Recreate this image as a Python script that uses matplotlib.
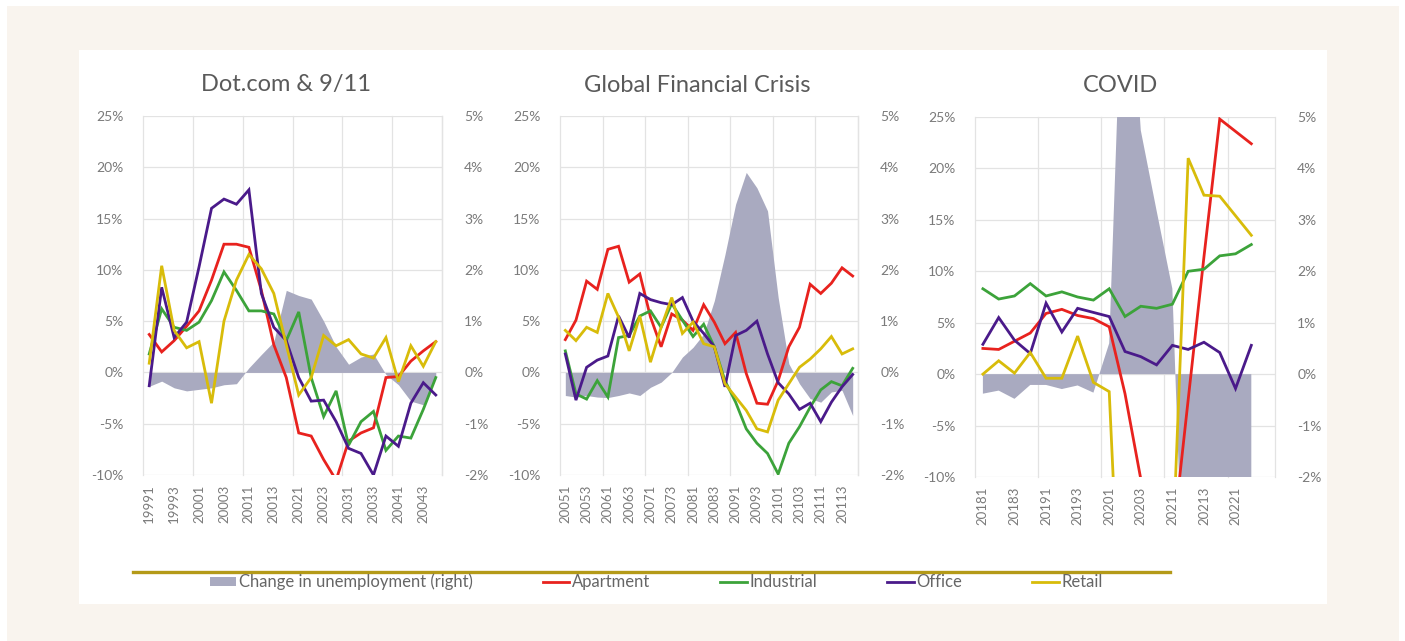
import matplotlib

matplotlib.use("Agg")
import matplotlib.pyplot as plt
import numpy as np
from matplotlib.lines import Line2D
from matplotlib.patches import Patch, Rectangle
from matplotlib.ticker import FuncFormatter

plt.rcParams["font.family"] = ["Lato", "DejaVu Sans"]

# ---- Dot.com & 9/11 (1999Q1 - 2004Q4) ----
dot_quarters = [
    "19991", "19992", "19993", "19994", "20001", "20002", "20003", "20004",
    "20011", "20012", "20013", "20014", "20021", "20022", "20023", "20024",
    "20031", "20032", "20033", "20034", "20041", "20042", "20043", "20044",
]
dot_unemp = [
    -0.27, -0.17, -0.30, -0.36, -0.33, -0.30, -0.24, -0.22,
    0.09, 0.35, 0.60, 1.60, 1.50, 1.43, 1.00, 0.50,
    0.16, 0.30, 0.36, -0.04, -0.24, -0.56, -0.63, -0.10,
]
dot_apartment = [
    3.7, 2.0, 3.1, 4.5, 6.0, 9.0, 12.5, 12.5, 12.2, 8.0, 2.7, -0.5,
    -5.9, -6.2, -8.5, -10.5, -6.7, -5.9, -5.4, -0.5, -0.4, 1.1, 2.1, 3.0,
]
dot_industrial = [
    1.8, 6.2, 4.4, 4.1, 4.9, 7.0, 9.8, 8.0, 6.0, 6.0, 5.7, 3.1,
    5.9, -0.5, -4.3, -1.8, -7.1, -4.8, -3.8, -7.6, -6.2, -6.4, -3.6, -0.5,
]
dot_office = [
    -1.3, 8.3, 3.4, 4.9, 10.3, 16.0, 16.9, 16.4, 17.8, 7.7, 4.4, 3.1,
    -0.5, -2.8, -2.7, -4.8, -7.4, -7.9, -10.0, -6.2, -7.2, -3.0, -1.0, -2.2,
]
dot_retail = [
    0.9, 10.4, 4.1, 2.4, 3.0, -3.0, 5.0, 9.0, 11.5, 10.1, 7.7, 2.7,
    -2.2, -0.5, 3.6, 2.6, 3.2, 1.8, 1.4, 3.4, -0.9, 2.6, 0.6, 3.0,
]

# ---- Global Financial Crisis (2005Q1 - 2011Q4) ----
gfc_quarters = [
    "20051", "20052", "20053", "20054", "20061", "20062", "20063", "20064",
    "20071", "20072", "20073", "20074", "20081", "20082", "20083", "20084",
    "20091", "20092", "20093", "20094", "20101", "20102", "20103", "20104",
    "20111", "20112", "20113", "20114",
]
gfc_unemp = [
    -0.45, -0.48, -0.45, -0.48, -0.49, -0.45, -0.40, -0.45,
    -0.29, -0.19, 0.00, 0.30, 0.49, 0.75, 1.40, 2.30,
    3.28, 3.90, 3.60, 3.15, 1.46, 0.17, -0.22, -0.51,
    -0.58, -0.38, -0.35, -0.84,
]
gfc_apartment = [
    3.2, 5.1, 8.9, 8.1, 12.0, 12.3, 8.8, 9.6, 5.4, 2.5, 5.7, 5.1, 4.1, 6.6,
    4.9, 2.8, 3.9, -0.1, -3.0, -3.1, -0.8, 2.5, 4.4, 8.6, 7.7, 8.7, 10.2, 9.4,
]
gfc_industrial = [
    2.1, -2.1, -2.6, -0.8, -2.4, 3.4, 3.6, 5.5, 6.0, 4.4, 6.7, 5.1, 3.5, 4.7,
    2.5, -0.8, -2.9, -5.5, -6.9, -7.9, -9.9, -6.9, -5.3, -3.4, -1.7, -0.9, -1.3, 0.4,
]
gfc_office = [
    1.8, -2.7, 0.5, 1.2, 1.6, 5.5, 3.4, 7.7, 7.1, 6.8, 6.6, 7.3, 5.0, 3.8,
    2.5, -1.4, 3.6, 4.1, 5.0, 1.8, -1.0, -2.1, -3.6, -3.0, -4.8, -2.9, -1.4, -0.2,
]
gfc_retail = [
    4.1, 3.1, 4.4, 3.9, 7.7, 5.4, 2.1, 5.5, 1.0, 4.4, 7.3, 3.8, 4.9, 2.8,
    2.5, -1.1, -2.4, -3.7, -5.5, -5.8, -2.7, -1.1, 0.5, 1.3, 2.3, 3.5, 1.8, 2.3,
]

# ---- COVID (2018Q1 - 2022Q2, one empty slot at the end) ----
covid_quarters = [
    "20181", "20182", "20183", "20184", "20191", "20192", "20193", "20194",
    "20201", "20202", "20203", "20204", "20211", "20212", "20213", "20214",
    "20221", "20222", "",
]
covid_unemp = [
    -0.38, -0.32, -0.48, -0.21, -0.21, -0.29, -0.22, -0.36,
    0.60, 9.40, 4.74, 3.18, 1.66, -7.10, -3.70, -2.60, -2.40, -2.30,
]
covid_apartment = [
    2.5, 2.4, 3.2, 4.0, 5.9, 6.3, 5.7, 5.4, 4.6, -1.9, -10.2, -18.0,
    -16.5, -2.5, 11.4, 24.8, 23.6, 22.4,
]
covid_industrial = [
    8.3, 7.3, 7.6, 8.8, 7.6, 8.0, 7.5, 7.2, 8.3, 5.6, 6.6, 6.4,
    6.8, 10.0, 10.2, 11.5, 11.7, 12.6,
]
covid_office = [
    2.9, 5.5, 3.3, 2.0, 6.9, 4.1, 6.4, 6.0, 5.6, 2.2, 1.7, 0.9,
    2.8, 2.4, 3.1, 2.1, -1.4, 2.8,
]
covid_retail = [
    0.0, 1.3, 0.1, 2.1, -0.4, -0.4, 3.7, -0.8, -1.7, -35.0, -30.0, -25.0,
    -18.0, 21.0, 17.4, 17.3, 15.4, 13.5,
]

TITLES = ["Dot.com & 9/11", "Global Financial Crisis", "COVID"]
SERIES_NAMES = ["Apartment", "Industrial", "Office", "Retail"]
COLORS = {
    "Apartment": "#e8221e",
    "Industrial": "#3ca33a",
    "Office": "#4a1a8a",
    "Retail": "#d8bc0a",
}
AREA_COLOR = "#a9aac0"
GRID_COLOR = "#e3e3e3"
TEXT_COLOR = "#7a7a7a"

W, H = 1405, 641

panels = [
    (dot_quarters, dot_unemp, [dot_apartment, dot_industrial, dot_office, dot_retail]),
    (gfc_quarters, gfc_unemp, [gfc_apartment, gfc_industrial, gfc_office, gfc_retail]),
    (covid_quarters, covid_unemp,
     [covid_apartment, covid_industrial, covid_office, covid_retail]),
]

# axes boxes in pixels: left, right, top, bottom
boxes = [(143, 442, 116, 475), (560, 858, 116, 475), (975, 1275, 117, 477)]
title_x = [286, 697, 1120]

fig = plt.figure(figsize=(W / 100, H / 100), dpi=100)
fig.patch.set_facecolor("white")
fig.patches.append(Rectangle((7 / W, 0), (1399 - 7) / W, 1 - 6 / H,
                             transform=fig.transFigure, facecolor="#f9f4ee",
                             edgecolor="none", zorder=-10))
fig.patches.append(Rectangle((79 / W, 1 - 604 / H), (1327 - 79) / W, (604 - 50) / H,
                             transform=fig.transFigure, facecolor="white",
                             edgecolor="none", zorder=-9))

pct = FuncFormatter(lambda v, p: f"{v:.0f}%")

for (quarters, unemp, series), (l, r, t, b), title, tx in zip(panels, boxes, TITLES, title_x):
    ax = fig.add_axes([l / W, 1 - b / H, (r - l) / W, (b - t) / H])
    ax2 = ax.twinx()
    n = len(quarters)

    # unemployment area on the right axis
    xu = np.arange(len(unemp))
    ax2.fill_between(xu, 0, unemp, color=AREA_COLOR, linewidth=0, zorder=2)
    ax2.set_ylim(-2, 5)
    ax2.set_yticks(np.arange(-2, 6, 1))
    ax2.yaxis.set_major_formatter(pct)
    ax2.yaxis.grid(True, color=GRID_COLOR, linewidth=0.9, zorder=0)
    ax2.set_axisbelow(True)
    for xv in np.arange(-0.5, n, 4).tolist() + [n - 0.5]:
        ax2.axvline(xv, color=GRID_COLOR, linewidth=0.9, zorder=0, clip_on=False)

    # property lines on the left axis
    for name, vals in zip(SERIES_NAMES, series):
        ax.plot(np.arange(len(vals)), vals, color=COLORS[name], linewidth=2.0,
                solid_joinstyle="miter")
    ax.set_ylim(-10, 25)
    ax.set_yticks(np.arange(-10, 26, 5))
    ax.yaxis.set_major_formatter(pct)
    ax.set_xlim(-0.5, n - 0.5)
    ax.set_xticks(np.arange(0, n, 2))
    ax.set_xticklabels(quarters[::2], rotation=90)

    ax.set_zorder(ax2.get_zorder() + 1)
    ax.patch.set_visible(False)
    for a in (ax, ax2):
        for s in a.spines.values():
            s.set_visible(False)
    ax.tick_params(axis="x", length=0, pad=7, labelsize=9.5, labelcolor=TEXT_COLOR)
    ax.tick_params(axis="y", length=0, pad=14, labelsize=10, labelcolor=TEXT_COLOR)
    ax2.tick_params(axis="y", length=0, pad=16, labelsize=10, labelcolor=TEXT_COLOR)

    fig.text(tx / W, 1 - 85 / H, title, ha="center", va="center",
             fontsize=17, color="#5a5a5a")

# odd gold rule above the legend
fig.add_artist(Line2D([133 / W, 1170 / W], [1 - 572 / H, 1 - 572 / H],
                      transform=fig.transFigure, color="#b49a18", linewidth=2.4))

handles = [Patch(facecolor=AREA_COLOR, edgecolor="none")] + [
    Line2D([0], [0], color=COLORS[nm], linewidth=2.0) for nm in SERIES_NAMES
]
labels = ["Change in unemployment (right)"] + SERIES_NAMES
fig.legend(handles, labels, loc="center", bbox_to_anchor=(656 / W, 1 - 582 / H),
           ncol=5, frameon=False, fontsize=12, labelcolor="#666666",
           handlelength=1.6, handleheight=0.5, handletextpad=0.15, columnspacing=4.2)

fig.savefig("out.png", dpi=100)
